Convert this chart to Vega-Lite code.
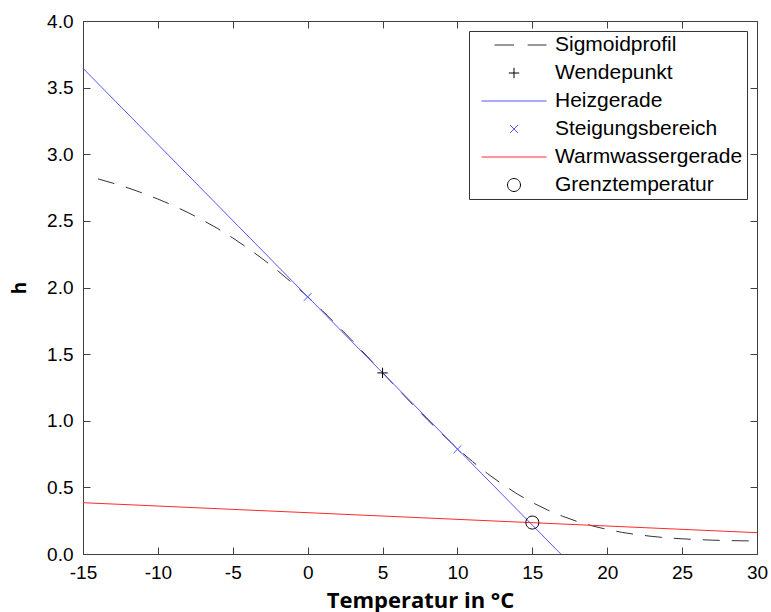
{
  "$schema": "https://vega.github.io/schema/vega-lite/v6.json",
  "width": 674,
  "height": 533,
  "autosize": "none",
  "padding": {"left": 83, "top": 21, "right": 14, "bottom": 58},
  "background": "#ffffff",
  "datasets": {
    "sigmoid": [
      {"T": -14, "h": 2.815}, {"T": -13, "h": 2.783}, {"T": -12, "h": 2.748}, {"T": -11, "h": 2.708},
      {"T": -10, "h": 2.664}, {"T": -9, "h": 2.616}, {"T": -8, "h": 2.563}, {"T": -7, "h": 2.505},
      {"T": -6, "h": 2.442}, {"T": -5, "h": 2.372}, {"T": -4, "h": 2.296}, {"T": -3, "h": 2.214},
      {"T": -2, "h": 2.126}, {"T": -1, "h": 2.031}, {"T": 0, "h": 1.931}, {"T": 1, "h": 1.824},
      {"T": 2, "h": 1.713}, {"T": 3, "h": 1.598}, {"T": 4, "h": 1.480}, {"T": 5, "h": 1.361},
      {"T": 6, "h": 1.241}, {"T": 7, "h": 1.123}, {"T": 8, "h": 1.007}, {"T": 9, "h": 0.897},
      {"T": 10, "h": 0.792}, {"T": 11, "h": 0.694}, {"T": 12, "h": 0.604}, {"T": 13, "h": 0.523},
      {"T": 14, "h": 0.450}, {"T": 15, "h": 0.386}, {"T": 16, "h": 0.331}, {"T": 17, "h": 0.284},
      {"T": 18, "h": 0.244}, {"T": 19, "h": 0.211}, {"T": 20, "h": 0.184}, {"T": 21, "h": 0.162},
      {"T": 22, "h": 0.145}, {"T": 23, "h": 0.132}, {"T": 24, "h": 0.121}, {"T": 25, "h": 0.114},
      {"T": 26, "h": 0.108}, {"T": 27, "h": 0.104}, {"T": 28, "h": 0.101}, {"T": 29, "h": 0.099},
      {"T": 30, "h": 0.098}
    ],
    "heiz": [{"T": -15, "h": 3.645}, {"T": 16.9, "h": 0}],
    "warm": [{"T": -15, "h": 0.385}, {"T": 30, "h": 0.16}],
    "marker": [
      {"T": 5, "h": 1.359, "serie": "Wendepunkt"},
      {"T": 0, "h": 1.929, "serie": "Steigungsbereich"},
      {"T": 10, "h": 0.786, "serie": "Steigungsbereich"},
      {"T": 15, "h": 0.236, "serie": "Grenztemperatur"}
    ]
  },
  "config": {
    "view": {"stroke": "#404040", "strokeWidth": 1},
    "axis": {
      "zindex": 1,
      "domain": false,
      "ticks": false,
      "grid": true,
      "gridColor": "#404040",
      "gridWidth": 1,
      "gridOpacity": 1,
      "labelFont": "Liberation Sans",
      "labelFontSize": 19,
      "labelColor": "#000000",
      "labelFlush": false,
      "labelOverlap": false,
      "titleFont": "Open Sans",
      "titleFontWeight": "bold",
      "titleColor": "#000000"
    }
  },
  "encoding": {
    "x": {
      "field": "T", "type": "quantitative",
      "scale": {"domain": [-15, 30], "nice": false, "zero": false},
      "axis": {
        "orient": "bottom",
        "values": [-15, -10, -5, 0, 5, 10, 15, 20, 25, 30],
        "labelExpr": "datum.value < 0 ? '-' + abs(datum.value) : '' + datum.value",
        "gridDash": [7, 519, 7],
        "labelPadding": 9,
        "title": "Temperatur in °C",
        "titleFontSize": 22,
        "titleY": 53,
        "titleBaseline": "alphabetic"
      }
    },
    "y": {
      "field": "h", "type": "quantitative",
      "scale": {"domain": [0, 4], "nice": false, "zero": false},
      "axis": {
        "orient": "left",
        "values": [0, 0.5, 1, 1.5, 2, 2.5, 3, 3.5, 4],
        "format": ".1f",
        "gridDash": [7, 660, 7],
        "labelPadding": 10,
        "title": "h",
        "titleFontSize": 19,
        "titleX": -58,
        "titleY": 266.5,
        "titleBaseline": "alphabetic"
      }
    }
  },
  "layer": [
    {
      "data": {"name": "sigmoid"},
      "mark": {"type": "line", "color": "#333333", "strokeWidth": 1, "strokeDash": [17, 12]}
    },
    {
      "data": {"name": "heiz"},
      "mark": {"type": "line", "color": "#5555ff", "strokeWidth": 1}
    },
    {
      "data": {"name": "warm"},
      "mark": {"type": "line", "color": "#ff2a2a", "strokeWidth": 1}
    },
    {
      "data": {"name": "marker"},
      "mark": {"type": "point", "filled": false, "size": 4225, "strokeWidth": 1, "opacity": 1},
      "encoding": {
        "color": {
          "field": "serie", "type": "nominal",
          "scale": {
            "domain": ["Sigmoidprofil", "Wendepunkt", "Heizgerade", "Steigungsbereich", "Warmwassergerade", "Grenztemperatur"],
            "range": ["#333333", "#000000", "#5555ff", "#5555ff", "#ff2a2a", "#000000"]
          },
          "legend": {
            "title": null,
            "orient": "top-right",
            "offset": 10,
            "symbolSize": 4225,
            "clipHeight": 20,
            "rowPadding": 7,
            "padding": 4,
            "symbolOffset": 8,
            "labelOffset": 8,
            "labelFont": "Liberation Sans",
            "labelFontSize": 21,
            "labelColor": "#000000",
            "labelLimit": 400,
            "strokeColor": "#333333",
            "fillColor": "#ffffff",
            "symbolStrokeWidth": 1
          }
        },
        "shape": {
          "field": "serie", "type": "nominal",
          "scale": {
            "domain": ["Sigmoidprofil", "Wendepunkt", "Heizgerade", "Steigungsbereich", "Warmwassergerade", "Grenztemperatur"],
            "range": [
              "M-0.6,0H0M0.42,0H1",
              "M-0.16,0H0.16M0,-0.16V0.16",
              "M-1,0H1",
              "M-0.12,-0.12L0.12,0.12M-0.12,0.12L0.12,-0.12",
              "M-1,0H1",
              "M0.2,0A0.2,0.2 0 1,1 -0.2,0A0.2,0.2 0 1,1 0.2,0"
            ]
          },
          "legend": {
            "title": null,
            "orient": "top-right",
            "offset": 10,
            "symbolSize": 4225,
            "clipHeight": 20,
            "rowPadding": 7,
            "padding": 4,
            "symbolOffset": 8,
            "labelOffset": 8,
            "labelFont": "Liberation Sans",
            "labelFontSize": 21,
            "labelColor": "#000000",
            "labelLimit": 400,
            "strokeColor": "#333333",
            "fillColor": "#ffffff",
            "symbolStrokeWidth": 1
          }
        }
      }
    }
  ]
}
